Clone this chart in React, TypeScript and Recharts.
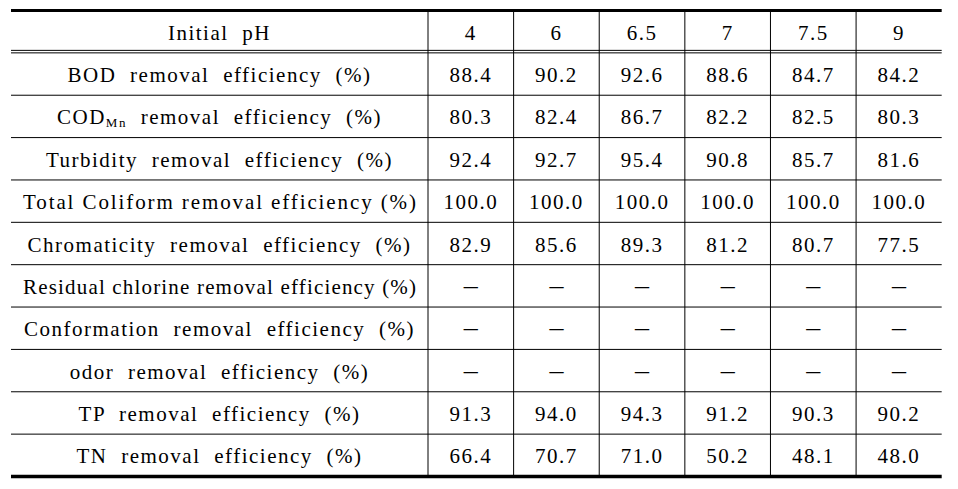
import React from 'react';
import { ScatterChart, XAxis, YAxis, Scatter, ReferenceLine } from 'recharts';

// ---------- data ----------
const HEADER_LABEL = 'Initial pH';
const PH_LABELS = ['4', '6', '6.5', '7', '7.5', '9'];
const ROW_LABELS = [
  'BOD removal efficiency (%)',
  'COD_{Mn} removal efficiency (%)',
  'Turbidity removal efficiency (%)',
  'Total Coliform removal efficiency (%)',
  'Chromaticity removal efficiency (%)',
  'Residual chlorine removal efficiency (%)',
  'Conformation removal efficiency (%)',
  'odor removal efficiency (%)',
  'TP removal efficiency (%)',
  'TN removal efficiency (%)',
];
const BOD = [88.4, 90.2, 92.6, 88.6, 84.7, 84.2];
const COD_MN = [80.3, 82.4, 86.7, 82.2, 82.5, 80.3];
const TURBIDITY = [92.4, 92.7, 95.4, 90.8, 85.7, 81.6];
const TOTAL_COLIFORM = [100.0, 100.0, 100.0, 100.0, 100.0, 100.0];
const CHROMATICITY = [82.9, 85.6, 89.3, 81.2, 80.7, 77.5];
const RESIDUAL_CHLORINE: (number | null)[] = [null, null, null, null, null, null];
const CONFORMATION: (number | null)[] = [null, null, null, null, null, null];
const ODOR: (number | null)[] = [null, null, null, null, null, null];
const TP = [91.3, 94.0, 94.3, 91.2, 90.3, 90.2];
const TN = [66.4, 70.7, 71.0, 50.2, 48.1, 48.0];

const ROWS: (number | null)[][] = [
  BOD, COD_MN, TURBIDITY, TOTAL_COLIFORM, CHROMATICITY,
  RESIDUAL_CHLORINE, CONFORMATION, ODOR, TP, TN,
];

const cells = ROWS.flatMap((vals, r) =>
  vals.map((v, c) => ({ x: c + 0.5, y: r + 0.5, v }))
);
const headerCells = PH_LABELS.map((t, c) => ({ x: c + 0.5, y: -0.5, t }));
const FIRST_COL = [HEADER_LABEL, ...ROW_LABELS];
const Y_TICKS = FIRST_COL.map((_, i) => i - 0.5);
const H_LINES = ROW_LABELS.slice(1).map((_, i) => i + 1);
const V_LINES = PH_LABELS.map((_, i) => i);

// ---------- layout / style ----------
const W = 958;
const H = 489;
const MARGIN = { top: 10.5, right: 16.3, bottom: 12.5, left: 11 };
const YAXIS_W = 417;
const LABEL_MAX_W = YAXIS_W - 24;
const FONT = '"Liberation Serif", "Times New Roman", serif';
const FS = 21;
const LS = 1.5;
const WS = 7;
const BASE_DY = 8;
const TEXT = '#000';
const LINE = '#000';

let ctx: CanvasRenderingContext2D | null = null;
function naturalWidth(t: string): number {
  if (!ctx) ctx = document.createElement('canvas').getContext('2d');
  if (!ctx) return 0;
  ctx.font = `${FS}px "Liberation Serif"`;
  const spaces = (t.match(/ /g) || []).length;
  return ctx.measureText(t).width + LS * t.length + WS * spaces;
}

function CellText({ x, y, text, maxWidth }: { x: number; y: number; text: string; maxWidth?: number }) {
  const common: any = {
    x, y, dy: BASE_DY, textAnchor: 'middle', fill: TEXT, fontFamily: FONT, fontSize: FS,
  };
  const sub = text.match(/^(.*?)_\{(.*?)\}(.*)$/);
  if (sub) {
    return (
      <text {...common} style={{ letterSpacing: LS, wordSpacing: WS }}>
        <tspan>{sub[1]}</tspan>
        <tspan fontSize={13} dy={3}>{sub[2]}</tspan>
        <tspan dy={-3}>{sub[3]}</tspan>
      </text>
    );
  }
  if (maxWidth && naturalWidth(text) > maxWidth) {
    return (
      <text {...common} textLength={maxWidth} lengthAdjust="spacing">
        {text}
      </text>
    );
  }
  return (
    <text {...common} style={{ letterSpacing: LS, wordSpacing: WS }}>
      {text}
    </text>
  );
}

const ValueShape = (props: any) => {
  const { cx, cy, payload } = props;
  if (payload.v === null || payload.v === undefined) {
    return (
      <text x={cx} y={cy} dy={BASE_DY} textAnchor="middle" fill={TEXT} fontFamily={FONT} fontSize={28}>
        –
      </text>
    );
  }
  return <CellText x={cx} y={cy} text={Number(payload.v).toFixed(1)} />;
};

const HeaderShape = (props: any) => {
  const { cx, cy, payload } = props;
  return <CellText x={cx} y={cy} text={payload.t} />;
};

const YTick = (props: any) => {
  const { x, y, payload } = props;
  const idx = Math.round(payload.value + 0.5);
  return <CellText x={x - YAXIS_W / 2} y={y} text={FIRST_COL[idx]} maxWidth={LABEL_MAX_W} />;
};

const HLine = (weight: number) => (p: any) => (
  <line x1={p.x1 - YAXIS_W} y1={p.y1} x2={p.x2} y2={p.y2} stroke={LINE} strokeWidth={weight} />
);

const DoubleLine = (p: any) => (
  <g>
    <line x1={p.x1 - YAXIS_W} y1={p.y1 - 2.5} x2={p.x2} y2={p.y2 - 2.5} stroke={LINE} strokeWidth={1} />
    <line x1={p.x1 - YAXIS_W} y1={p.y1} x2={p.x2} y2={p.y2} stroke={LINE} strokeWidth={1} />
  </g>
);

export default function App() {
  return (
    <div style={{ position: 'absolute', left: 0, top: 0, background: '#fff' }}>
      <ScatterChart width={W} height={H} margin={MARGIN}>
        <XAxis type="number" dataKey="x" domain={[0, PH_LABELS.length]} hide />
        <YAxis
          type="number"
          dataKey="y"
          domain={[-1, ROW_LABELS.length]}
          reversed
          ticks={Y_TICKS}
          interval={0}
          width={YAXIS_W}
          tickSize={0}
          tickMargin={0}
          axisLine={false}
          tickLine={false}
          tick={<YTick />}
        />
        <ReferenceLine y={-1} shape={HLine(3)} />
        <ReferenceLine y={0} shape={DoubleLine} />
        {H_LINES.map((v) => (
          <ReferenceLine key={`h${v}`} y={v} shape={HLine(1)} />
        ))}
        <ReferenceLine y={ROW_LABELS.length} shape={HLine(3.3)} />
        {V_LINES.map((v) => (
          <ReferenceLine key={`v${v}`} x={v} stroke={LINE} strokeWidth={1} />
        ))}
        <Scatter data={headerCells} shape={HeaderShape} isAnimationActive={false} />
        <Scatter data={cells} shape={ValueShape} isAnimationActive={false} />
      </ScatterChart>
    </div>
  );
}
